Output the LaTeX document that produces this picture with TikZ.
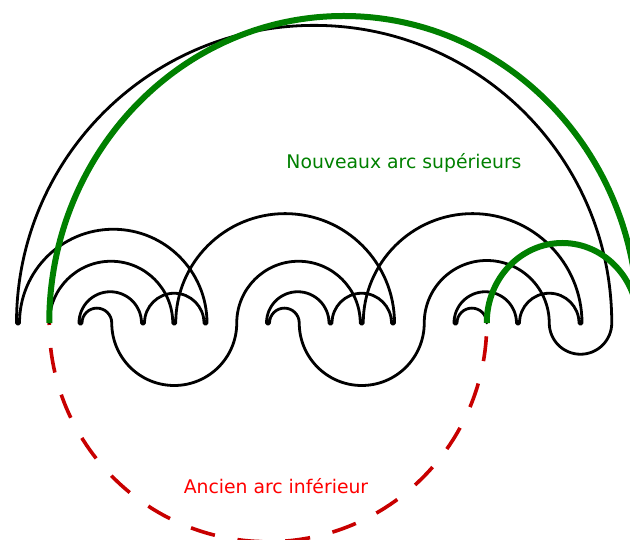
\documentclass[tikz,border=0pt]{standalone}
\usepackage{fontspec}
\setmainfont{DejaVu Sans}
\definecolor{arcgreen}{RGB}{0,128,0}
\definecolor{dashred}{RGB}{200,0,0}
\definecolor{txtred}{RGB}{255,0,0}
\begin{document}
\begin{tikzpicture}[x=1pt,y=1pt,
  meander/.style={line width=2.8pt,line join=round,line cap=round,black},
  newarc/.style={line width=6pt,arcgreen},
  oldarc/.style={line width=3.6pt,dashred,dash pattern=on 25pt off 23pt,dash phase=23pt},
  lbl/.style={font=\fontsize{18.8pt}{22pt}\selectfont,anchor=base}]
\useasboundingbox (0,-217) rectangle (630,323);
% points on the baseline
\foreach \k in {0,...,19}{\coordinate (p\k) at ({18+31.25*\k},0);}
\coordinate (pnew) at (638,0);
% old lower arc
\draw[oldarc] (p1) arc[start angle=180,end angle=360,radius=218.75pt];
% the meander curve
\draw[meander] (p1)
  arc[start angle=180,end angle=0,radius=61.75pt]
  arc[start angle=180,end angle=360,radius=1.5pt]
  arc[start angle=180,end angle=0,radius=109.375pt]
  arc[start angle=0,end angle=-180,radius=1.5pt]
  arc[start angle=0,end angle=180,radius=29.75pt]
  arc[start angle=0,end angle=-180,radius=1.5pt]
  arc[start angle=0,end angle=180,radius=31.25pt]
  arc[start angle=180,end angle=360,radius=1.5pt]
  arc[start angle=180,end angle=0,radius=14.875pt]
  arc[start angle=180,end angle=360,radius=62.5pt]
  arc[start angle=180,end angle=0,radius=62.5pt]
  arc[start angle=180,end angle=360,radius=31.25pt]
  arc[start angle=0,end angle=180,radius=297.625pt]
  arc[start angle=180,end angle=360,radius=1.5pt]
  arc[start angle=180,end angle=0,radius=93.75pt]
  arc[start angle=0,end angle=-180,radius=1.5pt]
  arc[start angle=0,end angle=180,radius=29.75pt]
  arc[start angle=0,end angle=-180,radius=1.5pt]
  arc[start angle=0,end angle=180,radius=31.25pt]
  arc[start angle=180,end angle=360,radius=1.5pt]
  arc[start angle=180,end angle=0,radius=14.875pt]
  arc[start angle=180,end angle=360,radius=62.5pt]
  arc[start angle=180,end angle=0,radius=61.75pt]
  arc[start angle=180,end angle=360,radius=1.5pt]
  arc[start angle=180,end angle=0,radius=109.375pt]
  arc[start angle=0,end angle=-180,radius=1.5pt]
  arc[start angle=0,end angle=180,radius=29.75pt]
  arc[start angle=0,end angle=-180,radius=1.5pt]
  arc[start angle=0,end angle=180,radius=31.25pt]
  arc[start angle=180,end angle=360,radius=1.5pt]
  arc[start angle=180,end angle=0,radius=14.875pt];
% new upper arcs
\draw[newarc] (p1) arc[start angle=180,end angle=0,x radius=294.375pt,y radius=307pt];
\draw[newarc] (p15) arc[start angle=180,end angle=0,x radius=75.625pt,y radius=80pt];
% labels
\node[lbl,text=arcgreen] (tnew) at (404,154) {Nouveaux arc supérieurs};
\node[lbl,text=txtred] (told) at (276,-170.3) {Ancien arc inférieur};
\end{tikzpicture}
\end{document}
